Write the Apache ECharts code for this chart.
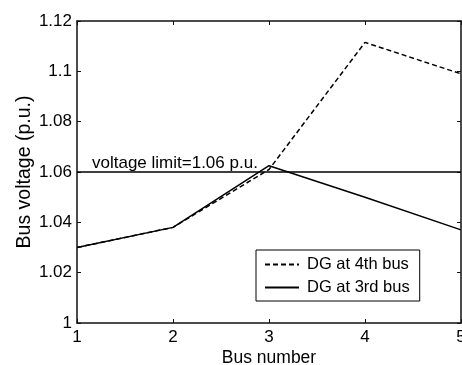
<!DOCTYPE html>
<html>
<head>
<meta charset="utf-8">
<script src="https://cdn.jsdelivr.net/npm/echarts@6/dist/echarts.min.js"></script>
<style>
  html, body { margin: 0; padding: 0; background: #fff; }
  #chart { width: 462px; height: 365px; }
</style>
</head>
<body>
<div id="chart"></div>
<script>
// bus numbers on the x axis
const buses = [1, 2, 3, 4, 5];
// bus voltages (p.u.)
const dg4th = [1.030, 1.038, 1.061, 1.1115, 1.099];
const dg3rd = [1.030, 1.038, 1.0625, 1.050, 1.037];
const limit = [1.06, 1.06, 1.06, 1.06, 1.06];
const seriesNames = ['DG at 4th bus', 'DG at 3rd bus'];
const limitText = 'voltage limit=1.06 p.u.';

const pairs = (ys) => buses.map((x, i) => [x, ys[i]]);
const font = 'Arial, "Liberation Sans", sans-serif';
const axisColor = '#111';

const chart = echarts.init(document.getElementById('chart'));
chart.setOption({
  animation: false,
  textStyle: { fontFamily: font },
  grid: { left: 77, right: 1, top: 21, bottom: 42, outerBoundsMode: 'none', containLabel: false },
  legend: {
    data: seriesNames,
    orient: 'vertical',
    left: 256,
    top: 250,
    itemWidth: 34,
    itemHeight: 14,
    itemGap: 6,
    padding: [6, 10, 5, 8],
    borderColor: '#000',
    borderWidth: 1,
    backgroundColor: '#fff',
    itemStyle: { color: 'rgba(0,0,0,0)', borderWidth: 0 },
    textStyle: { fontSize: 16.5, color: '#000', fontFamily: font, padding: [0, 0, 0, 3] }
  },
  xAxis: [{
    type: 'value',
    min: 1, max: 5, interval: 1,
    name: 'Bus number',
    nameLocation: 'middle',
    nameGap: 26,
    nameMoveOverlap: false,
    nameTextStyle: { fontSize: 17.5, color: '#000' },
    axisLine: { lineStyle: { color: axisColor, width: 1.5 } },
    axisTick: { inside: true, length: 4, lineStyle: { color: axisColor } },
    axisLabel: { fontSize: 17, color: '#000', margin: 6 },
    splitLine: { show: false }
  }, {
    type: 'value',
    position: 'top',
    min: 1, max: 5, interval: 1,
    axisLine: { lineStyle: { color: axisColor, width: 1.5 } },
    axisTick: { inside: true, length: 4, lineStyle: { color: axisColor } },
    axisLabel: { show: false },
    splitLine: { show: false }
  }],
  yAxis: [{
    type: 'value',
    min: 1, max: 1.12, interval: 0.02,
    name: 'Bus voltage (p.u.)',
    nameLocation: 'middle',
    nameGap: 42,
    nameMoveOverlap: false,
    nameTextStyle: { fontSize: 19.5, color: '#000' },
    axisLine: { show: true, lineStyle: { color: axisColor, width: 1.5 } },
    axisTick: { show: true, inside: true, length: 4, lineStyle: { color: axisColor } },
    axisLabel: {
      fontSize: 17, color: '#000', margin: 5,
      formatter: (v) => String(parseFloat(v.toFixed(2)))
    },
    splitLine: { show: false }
  }, {
    type: 'value',
    position: 'right',
    min: 1, max: 1.12, interval: 0.02,
    axisLine: { show: true, lineStyle: { color: axisColor, width: 1.5 } },
    axisTick: { show: true, inside: true, length: 4, lineStyle: { color: axisColor } },
    axisLabel: { show: false },
    splitLine: { show: false }
  }],
  series: [{
    name: seriesNames[0],
    type: 'line',
    data: pairs(dg4th),
    symbol: 'none',
    lineStyle: { color: '#000', width: 1.5, type: [5, 3] },
    itemStyle: { color: '#000' }
  }, {
    name: seriesNames[1],
    type: 'line',
    data: pairs(dg3rd),
    symbol: 'none',
    lineStyle: { color: '#000', width: 1.5 },
    itemStyle: { color: '#000' }
  }, {
    name: 'limit',
    type: 'line',
    data: pairs(limit),
    symbol: 'none',
    lineStyle: { color: '#000', width: 1.5 },
    itemStyle: { color: '#000' }
  }, {
    name: 'limitLabel',
    type: 'scatter',
    data: [[buses[0], limit[0]]],
    symbol: 'circle',
    symbolSize: 0,
    itemStyle: { color: '#000', opacity: 1 },
    silent: true,
    label: {
      show: true,
      position: 'right',
      distance: 15,
      offset: [0, -9],
      formatter: limitText,
      fontSize: 17,
      color: '#000',
      opacity: 1,
      textBorderWidth: 0,
      fontFamily: font
    }
  }]
});
</script>
</body>
</html>
